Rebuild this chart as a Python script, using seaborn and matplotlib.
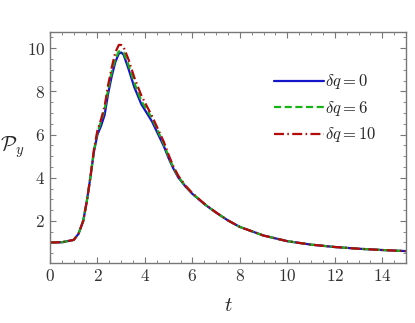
import numpy as np
import pandas as pd
import seaborn as sns
import matplotlib.pyplot as plt
from matplotlib.ticker import MultipleLocator, FuncFormatter

# datos
t = [0, 0.5, 1.0, 1.2, 1.4, 1.55, 1.7, 1.85, 2.0, 2.15, 2.3, 2.45, 2.6, 2.75, 2.9, 3.0,
     3.1, 3.3, 3.55, 3.85, 4.3, 4.8, 5.0, 5.2, 5.4, 5.7, 6.0, 6.5, 7.0, 7.5, 8.0, 9.0,
     10, 11, 12, 13, 14, 15]
p_dq0 = [1.0, 1.01, 1.12, 1.4, 2.0, 2.9, 4.0, 5.2, 6.0, 6.4, 6.9, 7.9, 8.7, 9.35, 9.75, 9.8,
         9.7, 9.07, 8.2, 7.4, 6.6, 5.45, 4.9, 4.42, 4.02, 3.6, 3.25, 2.78, 2.38, 2.02, 1.72, 1.32,
         1.06, 0.9, 0.79, 0.71, 0.65, 0.6]
p_dq6 = [1.0, 1.01, 1.12, 1.4, 2.0, 2.9, 4.0, 5.25, 6.1, 6.6, 7.15, 8.1, 8.9, 9.5, 9.85, 9.85,
         9.8, 9.25, 8.4, 7.55, 6.75, 5.55, 4.97, 4.47, 4.06, 3.62, 3.27, 2.79, 2.38, 2.02, 1.72, 1.32,
         1.06, 0.9, 0.79, 0.71, 0.65, 0.6]
p_dq10 = [1.0, 1.01, 1.12, 1.4, 2.0, 2.9, 4.0, 5.3, 6.2, 6.7, 7.3, 8.3, 9.1, 9.8, 10.15, 10.15,
          10.05, 9.5, 8.65, 7.8, 6.85, 5.65, 5.05, 4.52, 4.1, 3.64, 3.28, 2.8, 2.39, 2.02, 1.72, 1.32,
          1.06, 0.9, 0.79, 0.71, 0.65, 0.6]
labels = [r'$\delta q = 0$', r'$\delta q = 6$', r'$\delta q = 10$']
colors = ['#1414c8', '#14b414', '#b40a0a']

sns.set_style('ticks')
plt.rcParams['font.family'] = ['DejaVu Serif']
plt.rcParams['mathtext.fontset'] = 'cm'

fig = plt.figure(figsize=(4.15, 3.23), dpi=100)
ax = fig.add_axes([0.1205, 0.1858, 0.8578, 0.7152])

styles = ['-', (0, (3.2, 1.6)), (0, (4.5, 1.5, 0.7, 1.5))]
for y, lab, c, ls in zip([p_dq0, p_dq6, p_dq10], labels, colors, styles):
    sns.lineplot(x=t, y=y, ax=ax, color=c, linestyle=ls, linewidth=1.6, label=lab)

ax.set_xlim(0, 15)
ax.set_ylim(0.05, 10.75)
ax.xaxis.set_major_locator(MultipleLocator(2))
ax.xaxis.set_minor_locator(MultipleLocator(0.5))
ax.yaxis.set_major_locator(MultipleLocator(2))
ax.yaxis.set_minor_locator(MultipleLocator(0.5))
ax.xaxis.set_major_formatter(FuncFormatter(lambda v, p: f'${v:g}$'))
ax.yaxis.set_major_formatter(FuncFormatter(lambda v, p: f'${v:g}$' if v > 0.5 else ''))

ax.tick_params(which='both', direction='in', top=True, right=True, color='#777777',
               labelcolor='#333333', labelsize=12.5)
ax.tick_params(which='major', length=4, width=0.8)
ax.tick_params(which='minor', length=2, width=0.6)
for s in ax.spines.values():
    s.set_color('#777777')
    s.set_linewidth(1.0)

ax.set_xlabel(r'$t$', fontsize=15, labelpad=8)
ax.set_ylabel(r'$\mathcal{P}_y$', fontsize=15, rotation=0, labelpad=10, va='center')

ax.legend(loc='upper right', bbox_to_anchor=(0.96, 0.89), frameon=False, fontsize=12,
          handlelength=3.0, handletextpad=0.1, labelspacing=0.45)

plt.savefig('out.png', dpi=100)
